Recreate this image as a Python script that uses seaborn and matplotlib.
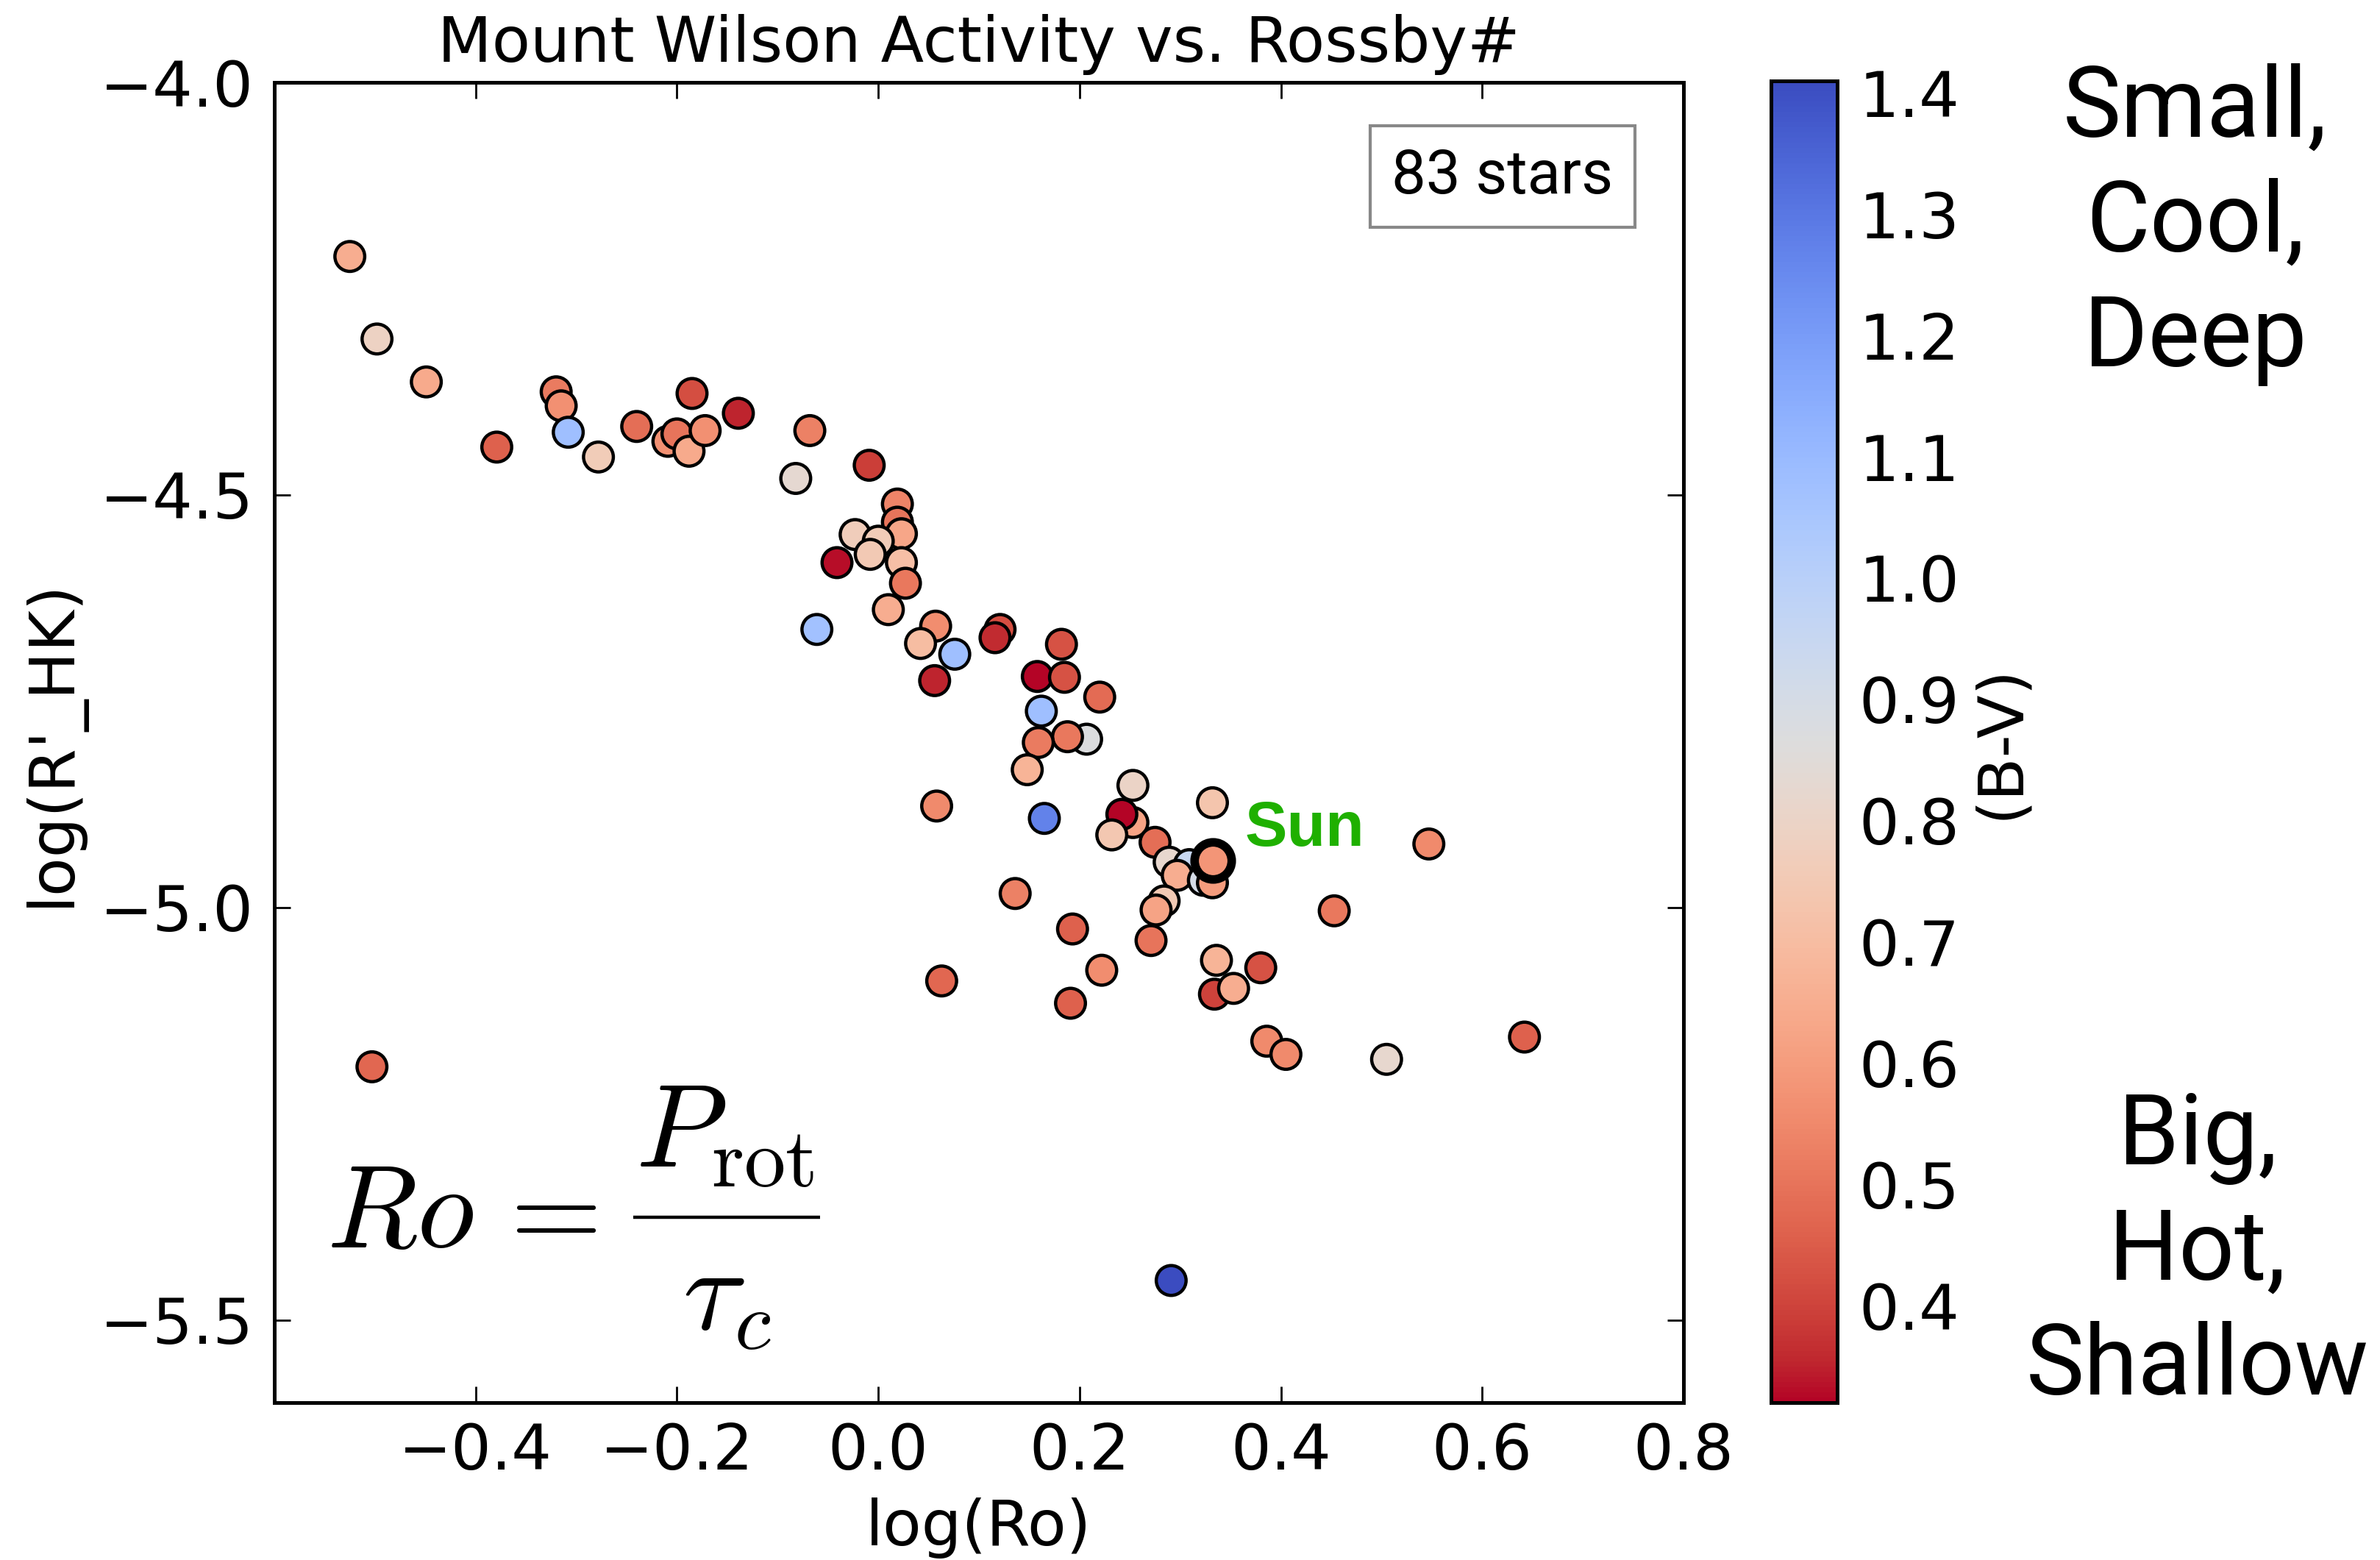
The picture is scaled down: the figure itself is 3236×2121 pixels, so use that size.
import numpy as np
import pandas as pd
import matplotlib
matplotlib.use("Agg")
import matplotlib.pyplot as plt
import seaborn as sns
from matplotlib.colors import Normalize
from matplotlib.cm import ScalarMappable
from matplotlib.lines import Line2D

# ---------------- data ----------------
log_ro = [-0.525, -0.498, -0.449, -0.379, -0.320, -0.315, -0.308, -0.278, -0.240,
          -0.209, -0.200, -0.188, -0.172, -0.185, -0.139, -0.068, -0.082, -0.009,
          0.019, 0.019, 0.023, -0.023, 0.000, -0.008, -0.041, 0.023, 0.027, 0.010,
          -0.061, 0.057, 0.042, 0.076, 0.056, 0.121, 0.116, 0.182, 0.158, 0.185,
          0.220, 0.162, 0.207, 0.188, 0.159, 0.148, 0.058, 0.165, 0.253, 0.253,
          0.242, 0.232, 0.275, 0.332, 0.289, 0.309, 0.297, 0.323, 0.332, 0.284,
          0.276, 0.271, 0.136, 0.193, 0.063, 0.222, 0.191, 0.336, 0.380, 0.334,
          0.353, 0.386, 0.405, 0.505, 0.453, 0.547, 0.642, -0.503, 0.291]
log_rhk = [-4.211, -4.311, -4.363, -4.442, -4.375, -4.392, -4.424, -4.454, -4.417,
           -4.435, -4.426, -4.447, -4.422, -4.377, -4.401, -4.422, -4.480, -4.464,
           -4.511, -4.533, -4.547, -4.548, -4.556, -4.572, -4.582, -4.582, -4.607,
           -4.639, -4.663, -4.659, -4.680, -4.693, -4.725, -4.663, -4.673, -4.681,
           -4.720, -4.721, -4.745, -4.762, -4.796, -4.793, -4.800, -4.833, -4.877,
           -4.892, -4.852, -4.897, -4.887, -4.912, -4.921, -4.873, -4.945, -4.948,
           -4.961, -4.967, -4.970, -4.992, -5.003, -5.040, -4.983, -5.026, -5.089,
           -5.076, -5.116, -5.064, -5.073, -5.105, -5.098, -5.162, -5.178, -5.184,
           -5.004, -4.923, -5.157, -5.193, -5.452]
b_v = [0.65, 0.79, 0.64, 0.46, 0.52, 0.57, 1.08, 0.76, 0.49,
       0.57, 0.50, 0.64, 0.57, 0.42, 0.35, 0.53, 0.83, 0.39,
       0.54, 0.50, 0.63, 0.77, 0.76, 0.75, 0.33, 0.71, 0.51,
       0.65, 1.07, 0.56, 0.70, 1.08, 0.35, 0.42, 0.36, 0.43,
       0.32, 0.43, 0.48, 1.08, 0.87, 0.51, 0.52, 0.67, 0.55,
       1.27, 0.80, 0.62, 0.32, 0.74, 0.49, 0.73, 0.82, 0.95,
       0.65, 0.90, 0.60, 0.75, 0.62, 0.50, 0.53, 0.46, 0.47,
       0.56, 0.46, 0.67, 0.43, 0.40, 0.65, 0.55, 0.55, 0.82,
       0.51, 0.55, 0.46, 0.47, 1.41]

sun_log_ro = [0.332]
sun_log_rhk = [-4.943]
sun_b_v = [0.58]

x_ticks = [-0.4, -0.2, 0.0, 0.2, 0.4, 0.6, 0.8]
y_ticks = [-5.5, -5.0, -4.5, -4.0]
cbar_ticks = [0.4, 0.5, 0.6, 0.7, 0.8, 0.9, 1.0, 1.1, 1.2, 1.3, 1.4]
bv_min, bv_max = 0.32, 1.41
n_stars_label = "83 stars"

df = pd.DataFrame({"log_ro": log_ro, "log_rhk": log_rhk, "bv": b_v})
sun = pd.DataFrame({"log_ro": sun_log_ro, "log_rhk": sun_log_rhk, "bv": sun_b_v})

# ---------------- style ----------------
sns.set_style("white")
plt.rcParams.update({
    "font.family": ["DejaVu Sans"],
    "mathtext.fontset": "cm",
    "axes.unicode_minus": True,
    "text.color": "black",
    "axes.labelcolor": "black",
    "xtick.direction": "in",
    "ytick.direction": "in",
    "xtick.top": True,
    "ytick.right": True,
    "xtick.bottom": True,
    "ytick.left": True,
    "xtick.major.size": 8,
    "ytick.major.size": 8,
    "xtick.major.width": 1.0,
    "ytick.major.width": 1.0,
    "xtick.major.pad": 9.5,
    "ytick.major.pad": 10,
    "xtick.color": "black",
    "ytick.color": "black",
    "axes.edgecolor": "black",
    "axes.linewidth": 1.8,
})

W, H = 3237, 2121
fig = plt.figure(figsize=(W / 200, H / 200), dpi=200)
AX_L, AX_R, AX_T, AX_B = 373, 2289, 112, 1907
ax = fig.add_axes([AX_L / W, 1 - AX_B / H, (AX_R - AX_L) / W, (AX_B - AX_T) / H])
cax = fig.add_axes([2408 / W, 1 - 1907 / H, 90 / W, (1907 - 110) / H])


def axfrac(px, py):
    return (px - AX_L) / (AX_R - AX_L), (AX_B - py) / (AX_B - AX_T)


norm = Normalize(vmin=bv_min, vmax=bv_max)
cmap = plt.get_cmap("coolwarm_r")

sns.scatterplot(data=df, x="log_ro", y="log_rhk", hue="bv", palette=cmap,
                hue_norm=norm, s=213, edgecolor="black", linewidth=1.6,
                legend=False, ax=ax, zorder=3)
sns.scatterplot(data=sun, x="log_ro", y="log_rhk", hue="bv", palette=cmap,
                hue_norm=norm, s=330, edgecolor="black", linewidth=4.2,
                legend=False, ax=ax, zorder=4)

ax.set_xlim(-0.6, 0.8)
ax.set_ylim(-5.6, -4.0)
ax.set_xticks(x_ticks)
ax.set_yticks(y_ticks)
ax.tick_params(labelsize=31)
ax.set_xlabel("log(Ro)", fontsize=31, labelpad=7)
ax.set_ylabel("log(R'_HK)", fontsize=31, labelpad=8)
ax.set_title("Mount Wilson Activity vs. Rossby#", fontsize=30.8, pad=10)
for sp in ax.spines.values():
    sp.set_visible(True)
    sp.set_linewidth(1.8)
ax.grid(False)

# annotations
ax.text(0.364, -4.925, "Sun", color="#1fb000", fontsize=31, fontweight="bold",
        family=["Liberation Sans", "DejaVu Sans"], ha="left", va="baseline", zorder=5)
ax.text(0.8716, 0.9287, n_stars_label, transform=ax.transAxes, fontsize=30,
        family=["Roboto", "DejaVu Sans"], fontweight="normal", ha="center", va="center",
        bbox=dict(boxstyle="square,pad=0.35", facecolor="white", edgecolor="#888888",
                  linewidth=1.5), zorder=6)

# Rossby-number formula (display style, composed)
fx, fy = axfrac(444, 1695)
ax.text(fx, fy, r"$Ro$", transform=ax.transAxes, fontsize=58,
        ha="left", va="baseline", zorder=5)
ex, ey = axfrac(738, 1695)
ax.text(ex, ey, r"$=$", transform=ax.transAxes, fontsize=58,
        ha="center", va="baseline", zorder=5)
nx, ny = axfrac(985.6, 1585.7)
ax.text(nx, ny, r"$P_{\rm rot}$", transform=ax.transAxes, fontsize=58,
        ha="center", va="baseline", zorder=5)
dx, dy = axfrac(988, 1807)
ax.text(dx, dy, r"$\tau_c$", transform=ax.transAxes, fontsize=58,
        ha="center", va="baseline", zorder=5)
bx0, by = axfrac(860.6, 1655)
bx1, _ = axfrac(1115, 1655)
ax.add_line(Line2D([bx0, bx1], [by, by], transform=ax.transAxes, color="black",
                   linewidth=1.6, solid_capstyle="butt", zorder=5))

# colorbar
sm = ScalarMappable(norm=norm, cmap=cmap)
sm.set_array([])
cb = fig.colorbar(sm, cax=cax, ticks=cbar_ticks)
cb.outline.set_linewidth(1.8)
cb.ax.tick_params(direction="in", length=7, width=1.0, labelsize=31, pad=10.5,
                  left=False, right=True)
cb.ax.set_yticklabels([f"{t:.1f}" for t in cbar_ticks])
cb.set_label("(B-V)", fontsize=31, labelpad=5.5)

# side descriptors
fig.text(0.922, 1 - 86 / H, "Small,\nCool,\nDeep", ha="center", va="top",
         fontsize=48, family=["Roboto", "DejaVu Sans"], fontweight="normal",
         linespacing=1.29)
fig.text(0.923, 1 - 1896 / H, "Big,\nHot,\nShallow", ha="center", va="baseline",
         fontsize=48, family=["Roboto", "DejaVu Sans"], fontweight="normal",
         linespacing=1.29)

fig.savefig("out.png", dpi=200, facecolor="white")
